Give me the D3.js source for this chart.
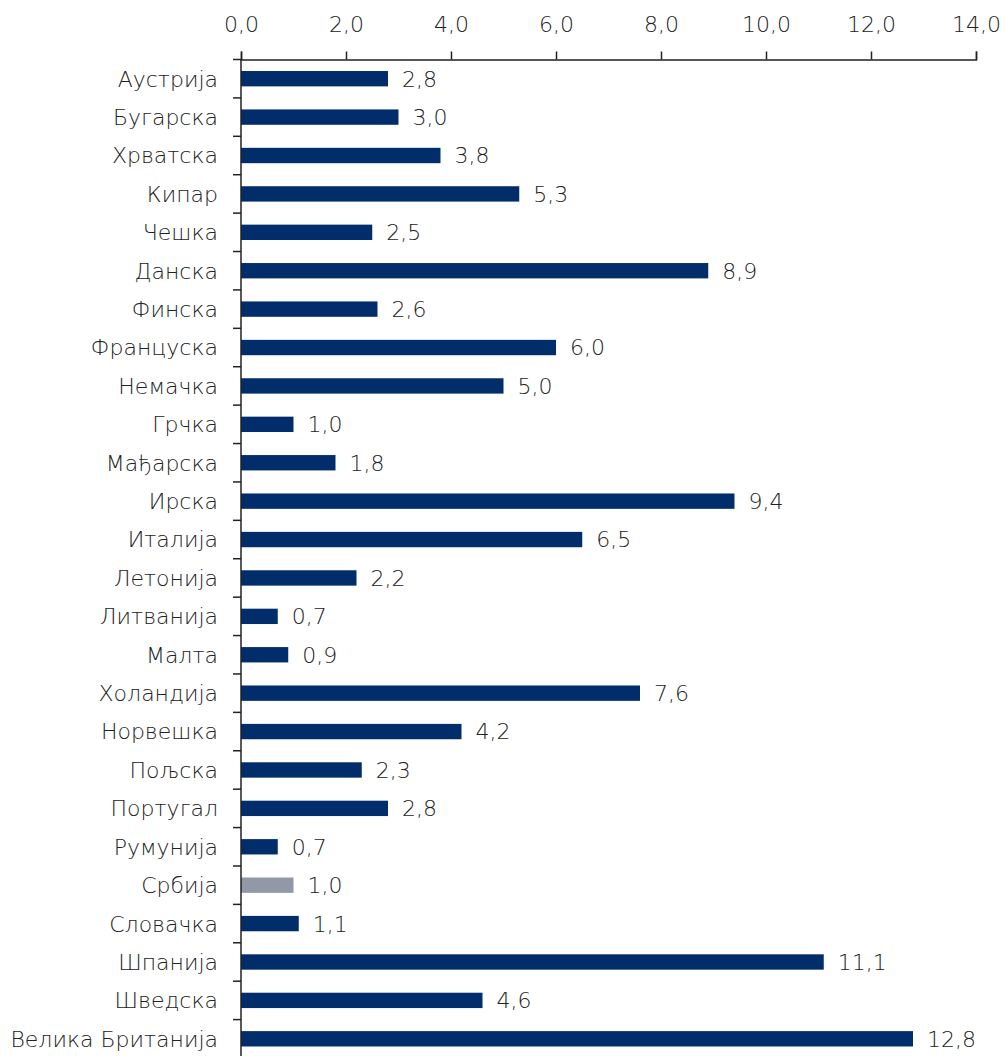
<!DOCTYPE html>
<html>
<head>
<meta charset="utf-8">
<script src="https://cdn.jsdelivr.net/npm/d3@7"></script>
<style>
  body { margin: 0; background: #fff; }
  svg text { font-family: "DejaVu Sans", sans-serif; font-weight: 200; fill: #222; }
</style>
</head>
<body>
<svg id="chart" width="1005" height="1056"></svg>
<script>
var countries = ['Аустрија', 'Бугарска', 'Хрватска', 'Кипар', 'Чешка', 'Данска', 'Финска',
  'Француска', 'Немачка', 'Грчка', 'Мађарска', 'Ирска', 'Италија', 'Летонија', 'Литванија',
  'Малта', 'Холандија', 'Норвешка', 'Пољска', 'Португал', 'Румунија', 'Србија', 'Словачка',
  'Шпанија', 'Шведска', 'Велика Британија']
var values = [2.8, 3.0, 3.8, 5.3, 2.5, 8.9, 2.6, 6.0, 5.0, 1.0, 1.8, 9.4, 6.5, 2.2, 0.7,
  0.9, 7.6, 4.2, 2.3, 2.8, 0.7, 1.0, 1.1, 11.1, 4.6, 12.8]
var xTicks = [0, 2, 4, 6, 8, 10, 12, 14]
var highlight = 'Србија'

;(function () {
  var svg = d3.select('#chart')
  var m = {left: 241, top: 59.5, right: 976, bottom: 1058}

  var fmt = function (v) { return d3.format('.1f')(v).replace('.', ',') }

  var x = d3.scaleLinear().domain([0, 14]).range([m.left, m.right])
  var y = d3.scaleBand().domain(countries).range([m.top, m.bottom]).paddingInner(0.6).paddingOuter(0.3)

  // bars
  svg.selectAll('.bar')
    .data(countries)
    .enter().append('rect')
    .attr('x', x(0))
    .attr('y', d => y(d))
    .attr('height', y.bandwidth())
    .attr('width', (d, i) => x(values[i]) - x(0))
    .attr('fill', d => d === highlight ? '#9199a9' : '#012e6b')

  // value labels
  svg.selectAll('.val')
    .data(countries)
    .enter().append('text')
    .attr('x', (d, i) => x(values[i]) + 14)
    .attr('y', d => y(d) + y.bandwidth() / 2)
    .attr('dy', '0.36em')
    .style('font-size', '22px')
    .text((d, i) => fmt(values[i]))

  // top axis
  var xAxis = d3.axisTop(x).tickValues(xTicks).tickFormat(fmt).tickSize(8).tickSizeOuter(8).tickPadding(20)
  var gx = svg.append('g').attr('transform', `translate(0,${m.top})`).call(xAxis)
  gx.select('.domain').attr('stroke', '#222').attr('stroke-width', 1.5)
  gx.selectAll('.tick line').attr('stroke', '#222').attr('stroke-width', 1.5)
  gx.selectAll('.tick text').style('font-size', '22px').attr('fill', '#222')
    .style('font-family', '"DejaVu Sans", sans-serif').style('font-weight', 200)

  // left axis, ticks at band boundaries
  var bounds = d3.range(countries.length + 1).map(i => m.top + i * y.step())
  svg.append('line')
    .attr('x1', m.left).attr('x2', m.left)
    .attr('y1', m.top).attr('y2', m.bottom)
    .attr('stroke', '#222').attr('stroke-width', 1.5)
  svg.selectAll('.ytick')
    .data(bounds)
    .enter().append('line')
    .attr('x1', m.left - 8).attr('x2', m.left)
    .attr('y1', d => d).attr('y2', d => d)
    .attr('stroke', '#222').attr('stroke-width', 1.5)

  svg.selectAll('.cat')
    .data(countries)
    .enter().append('text')
    .attr('x', m.left - 23)
    .attr('y', d => y(d) + y.bandwidth() / 2)
    .attr('dy', '0.36em')
    .attr('text-anchor', 'end')
    .style('font-size', '22px')
    .text(d => d)
})()
</script>
</body>
</html>
